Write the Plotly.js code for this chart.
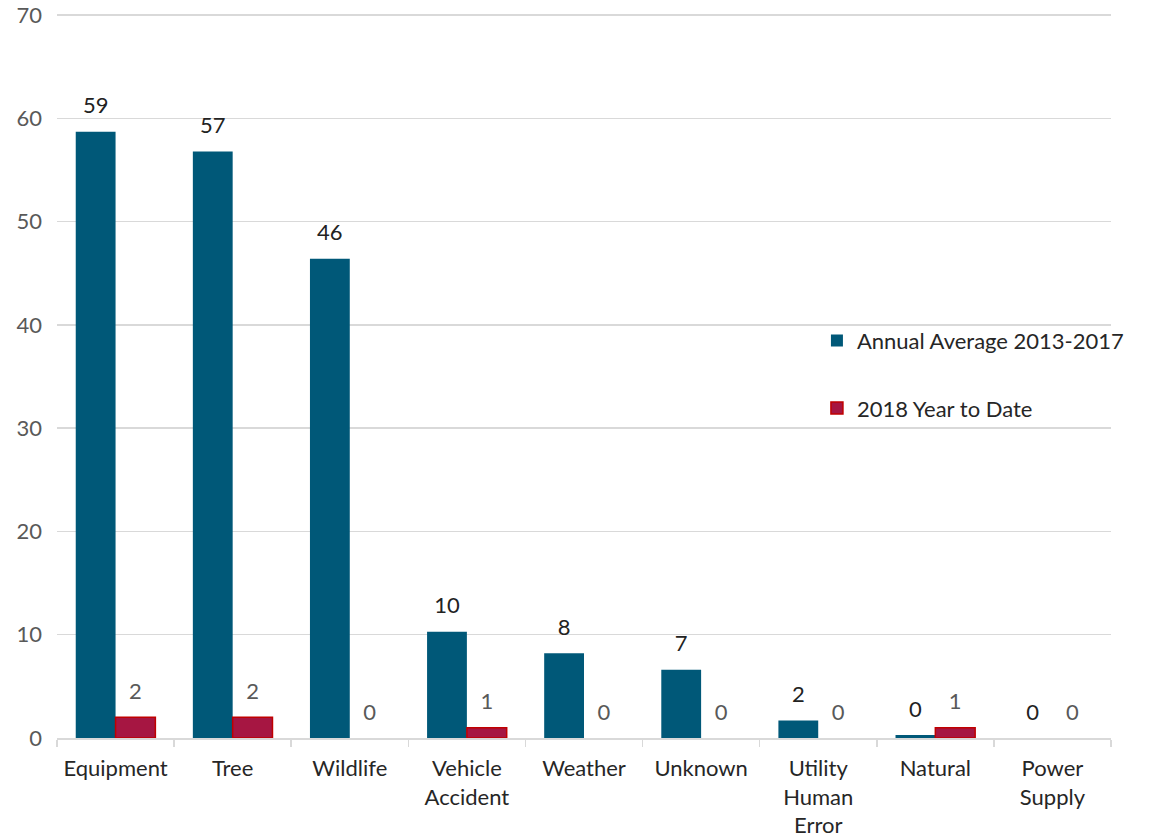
<!DOCTYPE html>
<html>
<head>
<meta charset="utf-8">
<script src="https://cdn.plot.ly/plotly-3.0.1.min.js"></script>
<style>
  html, body { margin: 0; padding: 0; background: #ffffff; }
  #chart { width: 1154px; height: 838px; }
</style>
</head>
<body>
<div id="chart"></div>
<script>
// Outage causes: five-year annual average vs. current year to date
const causes = ['Equipment', 'Tree', 'Wildlife', 'Vehicle<br>Accident', 'Weather',
                'Unknown', 'Utility<br>Human<br>Error', 'Natural', 'Power<br>Supply'];
const annualAverage = [58.7, 56.8, 46.4, 10.3, 8.2, 6.6, 1.7, 0.3, 0];
const yearToDate = [2, 2, 0, 1, 0, 0, 0, 1, 0];

const seriesNames = ['Annual Average 2013-2017', '2018 Year to Date'];
const yTicks = [0, 10, 20, 30, 40, 50, 60, 70];

const FONT = 'Lato, "Open Sans", sans-serif';
const BLUE = '#005878';
const RED_FILL = '#A61642';
const RED_EDGE = '#C00000';
const GAP = 0.32;

// empty bars get no outline so nothing is drawn along the axis
const redEdgeWidths = yearToDate.map(v => (v > 0 ? 1.5 : 0));

const traces = [
  {
    type: 'bar', name: seriesNames[0], x: causes, y: annualAverage,
    legendgroup: 'avg',
    marker: { color: BLUE, line: { width: 0 } },
    hovertemplate: '%{x}: %{y}<extra></extra>'
  },
  {
    type: 'bar', name: seriesNames[1], x: causes, y: yearToDate,
    legendgroup: 'ytd',
    marker: { color: RED_FILL, line: { color: RED_EDGE, width: redEdgeWidths } },
    hovertemplate: '%{x}: %{y}<extra></extra>'
  },
  // value labels, grouped the same way as the bars
  {
    type: 'scatter', mode: 'markers+text', x: causes, y: annualAverage,
    orientation: 'v', showlegend: false, hoverinfo: 'skip',
    texttemplate: '%{y:.0f}', textposition: 'top center',
    textfont: { family: FONT, size: 22, color: '#222222' },
    marker: { size: 19, color: 'rgba(0,0,0,0)' },
    cliponaxis: false
  },
  {
    type: 'scatter', mode: 'markers+text', x: causes, y: yearToDate,
    orientation: 'v', showlegend: false, hoverinfo: 'skip',
    texttemplate: '%{y:.0f}', textposition: 'top center',
    textfont: { family: FONT, size: 22, color: '#595959' },
    marker: { size: 19, color: 'rgba(0,0,0,0)' },
    cliponaxis: false
  }
];

const layout = {
  width: 1154, height: 838,
  margin: { l: 57, r: 43, t: 13, b: 100, pad: 0 },
  paper_bgcolor: '#ffffff', plot_bgcolor: '#ffffff',
  font: { family: FONT, size: 22, color: '#262626' },
  barmode: 'group', bargap: GAP, bargroupgap: 0,
  scattermode: 'group', scattergap: GAP,
  showlegend: true,
  legend: {
    x: 0.721, xanchor: 'left', y: 0.577, yanchor: 'top',
    bgcolor: 'rgba(0,0,0,0)', borderwidth: 0,
    traceorder: 'grouped', tracegroupgap: 36,
    font: { family: FONT, size: 22, color: '#262626' }
  },
  xaxis: {
    type: 'category',
    showline: true, linecolor: '#d9d9d9', linewidth: 1.5,
    ticks: 'outside', tickson: 'boundaries', ticklen: 7, tickcolor: '#d9d9d9', tickwidth: 1.5,
    ticklabelstandoff: 10,
    showgrid: false, zeroline: false,
    tickfont: { family: FONT, size: 22, color: '#262626' },
    fixedrange: true
  },
  yaxis: {
    // a little headroom keeps the top gridline from being clipped at the edge
    range: [0, 70.2], tickvals: yTicks, ticktext: yTicks.map(String),
    showgrid: true, gridcolor: '#d9d9d9', gridwidth: 1.5,
    zeroline: false, showline: false, ticks: '',
    ticklabelstandoff: 14,
    tickfont: { family: FONT, size: 22, color: '#595959' },
    fixedrange: true
  }
};

Plotly.newPlot('chart', traces, layout, { displayModeBar: false, staticPlot: true });
</script>
</body>
</html>
